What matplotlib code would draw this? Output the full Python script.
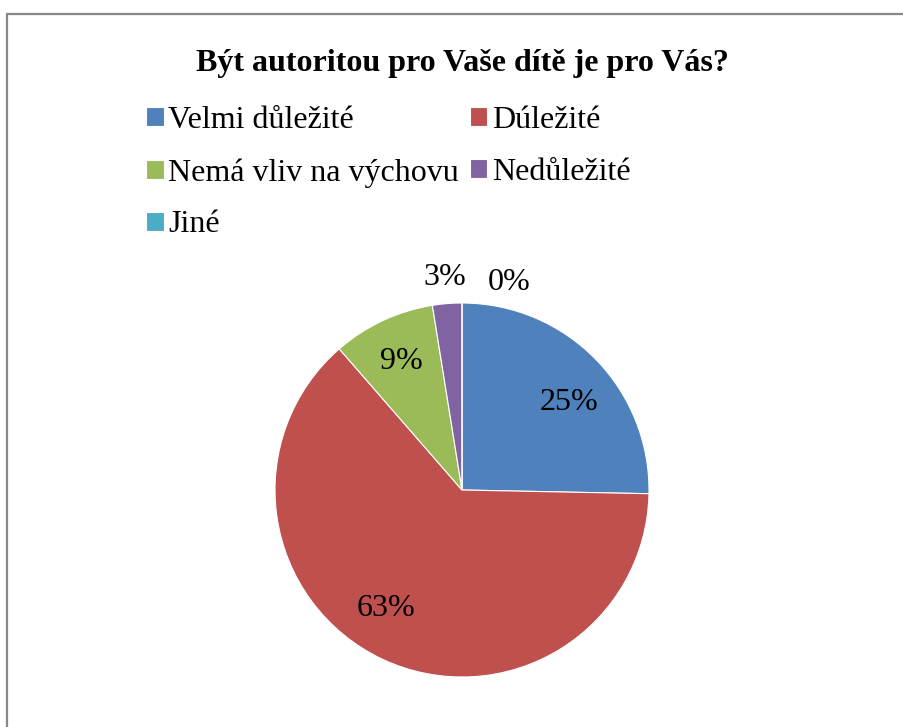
import numpy as np
import matplotlib.pyplot as plt
from matplotlib.patches import Rectangle

LABELS = ['Velmi důležité', 'Dúležité', 'Nemá vliv na výchovu', 'Nedůležité', 'Jiné']
COUNTS = [20, 50, 7, 2, 0]
COLORS = ['#4F81BD', '#C0504D', '#9BBB59', '#8064A2', '#4BACC6']
TITLE = 'Být autoritou pro Vaše dítě je pro Vás?'

plt.rcParams['font.family'] = ['Liberation Serif', 'DejaVu Serif']

W, H = 904, 727
fig = plt.figure(figsize=(W / 100, H / 100), dpi=100)

# grey chart frame, running off the right and bottom edges
fig.patches.append(Rectangle((7 / W, -0.1), 1.2, (H - 14) / H + 0.1,
                             transform=fig.transFigure, fill=False,
                             edgecolor='#888888', linewidth=1.6))

cx, cy, r = 462, 490, 187
side = 2.5 * r
ax = fig.add_axes([(cx - side / 2) / W, (H - cy - side / 2) / H, side / W, side / H])

wedges, texts, autotexts = ax.pie(COUNTS, colors=COLORS, startangle=90, counterclock=False,
                                  autopct='%.0f%%', pctdistance=0.76,
                                  wedgeprops=dict(linewidth=0.8, edgecolor='white'),
                                  textprops=dict(fontsize=23))
ax.set_xlim(-1.25, 1.25)
ax.set_ylim(-1.25, 1.25)
ax.set_aspect('equal')

# small slices get their labels outside the pie
for w, t in zip(wedges, autotexts):
    ang = np.deg2rad((w.theta1 + w.theta2) / 2)
    share = (w.theta2 - w.theta1) / 360
    if share < 0.05:
        t.set_position((1.15 * np.cos(ang), 1.14 * np.sin(ang)))
    if share == 0:
        t.set_position((0.25, 1.11))
    elif share > 0.5:
        t.set_position((0.72 * np.cos(ang) - 0.1, 0.72 * np.sin(ang) + 0.02))
    elif share > 0.2:
        t.set_position((0.77 * np.cos(ang) + 0.02, 0.77 * np.sin(ang) - 0.07))

fig.text(462 / W, 1 - 63 / H, TITLE, ha='center', va='center',
         fontsize=23, fontweight='bold')

# Excel fills the legend row by row, matplotlib column by column
order = [0, 2, 4, 1, 3]
fig.legend([wedges[i] for i in order], [LABELS[i] for i in order], ncol=2,
           loc='upper left', bbox_to_anchor=(146 / W, 1 - 106 / H), frameon=False,
           fontsize=23, handlelength=0.55, handleheight=0.55, handletextpad=0.15,
           columnspacing=0.33, labelspacing=0.72, borderaxespad=0, borderpad=0)

fig.savefig('out.png', dpi=100)
